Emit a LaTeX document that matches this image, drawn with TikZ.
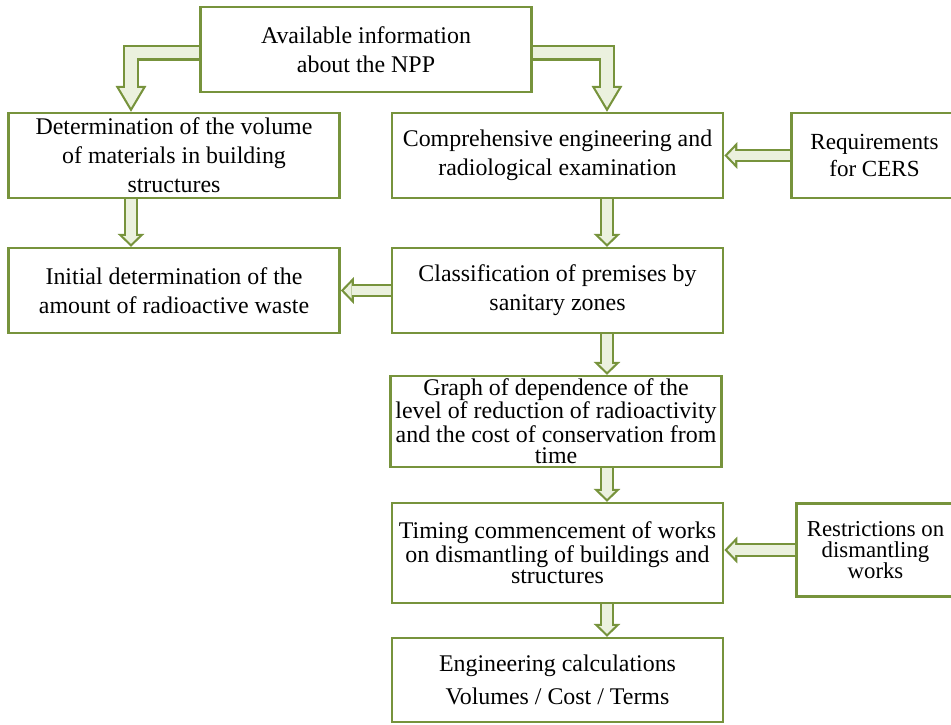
\documentclass[tikz,border=0pt]{standalone}
\usepackage{fontspec}
\setmainfont{Liberation Serif}
\usetikzlibrary{arrows.meta}
\definecolor{boxgreen}{HTML}{77933C}
\definecolor{arrowfill}{HTML}{EBF1DE}
\tikzset{
	box/.style={draw=boxgreen, line width=1.7pt, fill=white, align=center, inner sep=0pt,
		minimum width=8.28cm, minimum height=2.125cm, font=\fontsize{17}{20.6}\selectfont},
	tight/.style={font=\fontsize{17}{15.4}\selectfont},
	blockarrow/.style={draw=boxgreen, line width=9.9pt,
		-{Triangle[length=9.2pt,width=19.1pt,line width=0pt]},
		postaction={draw=arrowfill, line width=6.8pt, shorten >=2.17pt,
			-{Triangle[length=5.5pt,width=11.4pt,line width=0pt]}}},
	bentarrow/.style={draw=boxgreen, line width=11.3pt, line join=miter,
		-{Triangle[length=18.4pt,width=22pt,line width=0pt]},
		postaction={draw=arrowfill, line width=8.2pt, line join=miter, shorten >=3.04pt,
			-{Triangle[length=13.8pt,width=16.5pt,line width=0pt]}}}
}
\begin{document}
\begin{tikzpicture}[x=0.025cm, y=-0.025cm]
			%%%%% START %%%%%
			\useasboundingbox (0,0) rectangle (951,724);
			\clip (0,0) rectangle (951,724);
			
			\coordinate (lcol) at (131,0);
			\coordinate (rcol) at (607,0);
			
			\node[box] (top) at (366,49.5) {Available information\\about the NPP};
			\node[box] (det) at (174,155.5) {Determination of the volume\\of materials in building\\structures};
			\node[box] (comp) at (557.5,155.5) {Comprehensive engineering and\\radiological examination};
			\node[box, minimum width=4.15cm, font=\fontsize{16.4}{19.6}\selectfont] (req) at (874.5,155.5) {Requirements\\for CERS};
			\node[box] (init) at (174,290.5) {Initial determination of the\\amount of radioactive waste};
			\node[box] (class) at (557.5,290.5) {Classification of premises by\\sanitary zones};
			\node[box, tight, minimum height=2.275cm] (graph) at (556,421.5) {Graph of dependence of the\\level of reduction of radioactivity\\and the cost of conservation from\\time};
			\node[box, tight, minimum height=2.5cm] (timing) at (557.5,553) {Timing commencement of works\\on dismantling of buildings and\\structures};
			\node[box, minimum width=3.95cm, minimum height=2.325cm, font=\fontsize{16.2}{15}\selectfont] (restr) at (875.5,550) {Restrictions on\\dismantling\\works};
			\node[box, font=\fontsize{17}{23.4}\selectfont, minimum height=2.1cm] (eng) at (557.5,680) {Engineering calculations\\Volumes / Cost / Terms};
			
			\draw[bentarrow] ([yshift=-0.08cm]top.west) -| (det.north -| lcol);
			\draw[bentarrow] ([yshift=-0.08cm]top.east) -| (comp.north -| rcol);
			
			\draw[blockarrow] (det.south -| lcol) -- (init.north -| lcol);
			\draw[blockarrow] (comp.south -| rcol) -- (class.north -| rcol);
			\draw[blockarrow] (class.south -| rcol) -- (graph.north -| rcol);
			\draw[blockarrow] (graph.south -| rcol) -- (timing.north -| rcol);
			\draw[blockarrow] (timing.south -| rcol) -- (eng.north -| rcol);
			
			\draw[blockarrow] (req.west) -- (req.west -| comp.east);
			\draw[blockarrow] (class.west) -- (class.west -| init.east);
			\draw[blockarrow] (restr.west) -- (restr.west -| timing.east);
			%%%%% END %%%%%
\end{tikzpicture}
\end{document}
